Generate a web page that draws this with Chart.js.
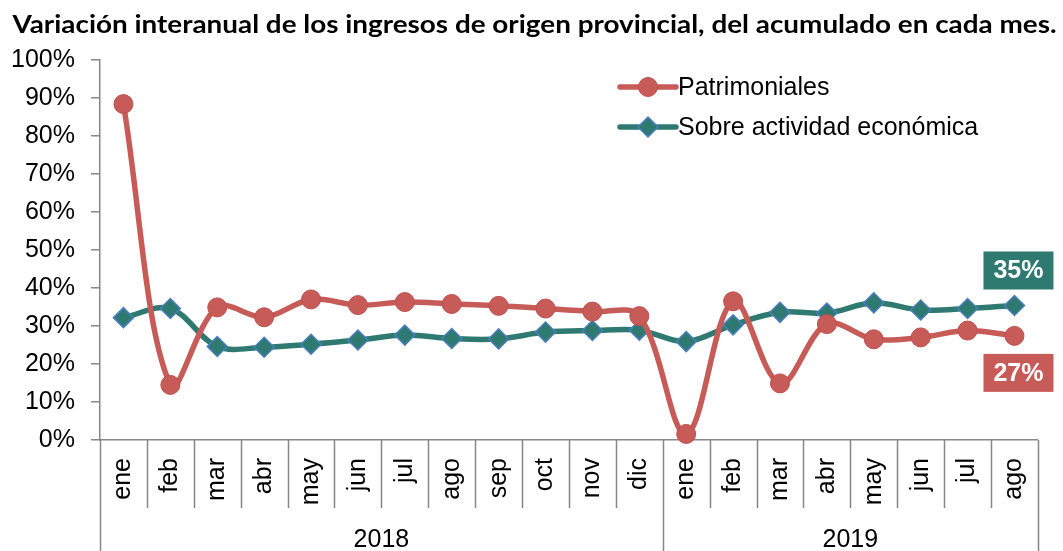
<!DOCTYPE html>
<html lang="es">
  <head>
    <meta charset="UTF-8" />
    <title>Variación interanual de los ingresos de origen provincial</title>
    <script src="https://cdn.jsdelivr.net/npm/chart.js"></script>
    <style>
      body { margin: 0; background: #ffffff; }
      #wrap { width: 1063px; height: 551px; }
    </style>
  </head>
  <body>
    <div id="wrap"><canvas id="chart" width="1063" height="551"></canvas></div>

    <script>
      // data
      const title = "Variación interanual de los ingresos de origen provincial, del acumulado en cada mes.";
      const months = ["ene", "feb", "mar", "abr", "may", "jun", "jul", "ago", "sep", "oct", "nov", "dic",
                      "ene", "feb", "mar", "abr", "may", "jun", "jul", "ago"];
      const years = ["2018", "2019"];
      const monthsPerYear = [12, 8];
      const patrimoniales = [88.4, 14.5, 34.9, 32.3, 37.0, 35.5, 36.3, 35.8, 35.3, 34.6, 33.8, 32.6,
                             1.6, 36.5, 14.9, 30.5, 26.5, 27.0, 28.8, 27.4];
      const actividad = [32.2, 34.6, 24.6, 24.4, 25.2, 26.3, 27.6, 26.7, 26.6, 28.4, 28.8, 28.9,
                         25.9, 30.3, 33.6, 33.4, 36.1, 34.2, 34.6, 35.4];

      const axisGray = "#878787";
      const font = "Liberation Sans, Arial, sans-serif";
      const red = "#C75B58";
      const green = "#2F7A70";

      // title, category boxes, year labels, legend and end labels
      const decor = {
        id: "decor",
        afterDraw(chart) {
          const { ctx, chartArea: a, scales } = chart;
          const x = scales.x;
          const step = (a.right - a.left) / months.length;
          ctx.save();

          // title (Calibri-like: stretched Lato bold)
          ctx.font = "bold 25px Lato";
          ctx.fillStyle = "#000";
          ctx.textBaseline = "middle";
          ctx.textAlign = "center";
          const tw = ctx.measureText(title).width;
          const sx = 1044 / tw;
          ctx.save();
          ctx.translate(chart.width / 2 + 3, 25);
          ctx.scale(sx, 1);
          ctx.fillText(title, 0, 0);
          ctx.restore();

          ctx.strokeStyle = axisGray;
          ctx.lineWidth = 1.5;
          let bounds = [0];
          monthsPerYear.forEach((n) => bounds.push(bounds[bounds.length - 1] + n));
          for (let i = 0; i <= months.length; i++) {
            const px = Math.round(x.getPixelForValue(Math.min(i, months.length - 1)) +
              (i === months.length ? step / 2 : -step / 2)) + 0.5;
            const yEnd = bounds.includes(i) ? chart.height : a.bottom + 68;
            ctx.beginPath();
            ctx.moveTo(px, a.bottom);
            ctx.lineTo(px, yEnd);
            ctx.stroke();
          }

          ctx.fillStyle = "#000";
          ctx.font = "25px " + font;
          years.forEach((y, i) => {
            const l = x.getPixelForValue(bounds[i]) - step / 2;
            const r = x.getPixelForValue(bounds[i + 1] - 1) + step / 2;
            ctx.fillText(y, (l + r) / 2, a.bottom + 100);
          });

          // legend
          chart.data.datasets.forEach((ds, i) => {
            const ly = a.top + 27 + i * 40;
            const lx = a.left + 520;
            ctx.strokeStyle = ds.borderColor;
            ctx.lineWidth = ds.borderWidth;
            ctx.lineCap = "round";
            ctx.beginPath();
            ctx.moveTo(lx, ly);
            ctx.lineTo(lx + 56, ly);
            ctx.stroke();
            ctx.fillStyle = ds.pointBackgroundColor;
            ctx.strokeStyle = ds.pointBorderColor;
            ctx.lineWidth = ds.pointBorderWidth;
            ctx.beginPath();
            const r = ds.pointRadius;
            if (ds.pointStyle === "circle") {
              ctx.arc(lx + 28, ly, r, 0, Math.PI * 2);
            } else {
              ctx.moveTo(lx + 28, ly - r);
              ctx.lineTo(lx + 28 + r, ly);
              ctx.lineTo(lx + 28, ly + r);
              ctx.lineTo(lx + 28 - r, ly);
              ctx.closePath();
            }
            ctx.fill();
            ctx.stroke();
            ctx.fillStyle = "#000";
            ctx.font = "25px " + font;
            ctx.textAlign = "left";
            ctx.fillText(ds.label, lx + 58, ly + 1);
          });

          // last value labels
          chart.data.datasets.forEach((ds, i) => {
            const meta = chart.getDatasetMeta(i);
            const last = ds.data.length - 1;
            const pt = meta.data[last];
            const cx = pt.x + 4;
            const cy = pt.y + ds.endLabelOffset;
            ctx.fillStyle = ds.borderColor;
            ctx.fillRect(cx - 35, cy - 19, 70, 38);
            ctx.fillStyle = "#fff";
            ctx.font = "bold 25px " + font;
            ctx.textAlign = "center";
            ctx.fillText(Math.round(ds.data[last]) + "%", cx, cy + 1);
          });
          ctx.restore();
        }
      };

      new Chart(document.getElementById("chart"), {
        type: "line",
        data: {
          labels: months,
          datasets: [
            {
              label: "Patrimoniales",
              data: patrimoniales,
              borderColor: red,
              borderWidth: 5.5,
              pointStyle: "circle",
              pointRadius: 9.5,
              pointBackgroundColor: red,
              pointBorderColor: "#BE504D",
              pointBorderWidth: 1,
              tension: 0.35,
              endLabelOffset: 37
            },
            {
              label: "Sobre actividad económica",
              data: actividad,
              borderColor: green,
              borderWidth: 5.5,
              pointStyle: "rectRot",
              pointRadius: 10,
              pointBackgroundColor: green,
              pointBorderColor: "#4A7EC0",
              pointBorderWidth: 1.5,
              tension: 0.35,
              endLabelOffset: -35
            }
          ]
        },
        options: {
          responsive: false,
          animation: false,
          clip: false,
          layout: { padding: { left: 0, right: 21, top: 60, bottom: 0 } },
          plugins: {
            legend: { display: false },
            tooltip: { enabled: false },
            title: { display: false }
          },
          scales: {
            x: {
              offset: true,
              grid: { display: false, drawTicks: false, offset: true },
              border: { display: true, color: axisGray, width: 1.5 },
              ticks: {
                color: "#000",
                font: { family: font, size: 25 },
                minRotation: 90,
                maxRotation: 90,
                autoSkip: false,
                padding: 18
              },
              afterFit: (s) => { s.height = 111; }
            },
            y: {
              min: 0,
              max: 100,
              grid: { drawOnChartArea: false, tickLength: 9, color: axisGray, lineWidth: 1.5 },
              border: { color: axisGray, width: 1.5 },
              ticks: {
                stepSize: 10,
                color: "#000",
                font: { family: font, size: 25 },
                padding: 16,
                callback: (v) => v + "%"
              },
              afterFit: (s) => { s.width = 100; }
            }
          }
        },
        plugins: [decor]
      });
    </script>
  </body>
</html>
